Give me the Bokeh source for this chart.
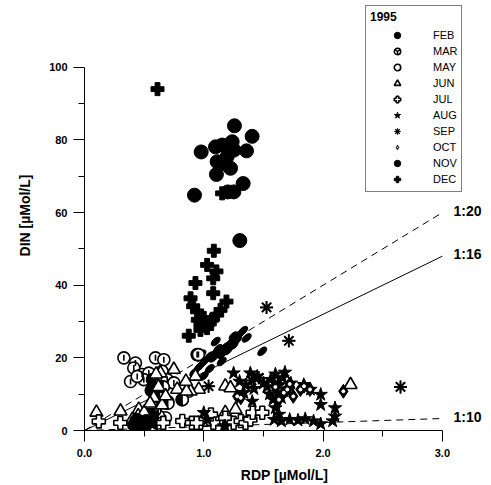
import math
from bokeh.plotting import figure
from bokeh.models import Range1d, FixedTicker, NumeralTickFormatter, Label, Legend, LegendItem
from bokeh.embed import file_html
from bokeh.resources import INLINE

# ---------------- data ----------------
feb_rdp = [0.92, 0.96, 0.99, 1.02, 1.05, 1.08, 1.10, 1.12, 1.15, 1.18, 1.20, 1.22, 1.25, 1.28, 1.30, 1.33, 1.36, 1.49, 1.00, 1.05, 1.15, 0.98, 1.10, 1.25]
feb_din = [16.0, 17.5, 18.5, 19.5, 20.5, 20.0, 21.5, 22.5, 21.0, 23.0, 22.0, 24.0, 23.5, 25.0, 26.5, 27.5, 25.5, 21.8, 15.0, 17.0, 19.0, 21.0, 24.5, 26.0]

mar_rdp = [0.33, 0.595, 0.665, 0.427, 0.413, 0.483, 0.539, 0.386, 0.497, 0.651, 0.693, 0.749, 0.944, 0.874, 0.819, 0.698, 0.679, 0.442, 0.955]
mar_din = [20.0, 20.0, 19.5, 18.6, 17.2, 15.4, 15.8, 13.5, 14.0, 16.3, 14.0, 13.1, 20.9, 10.8, 8.5, 8.0, 3.5, 14.9, 20.9]

may_rdp = [0.82, 0.60, 0.66, 0.58, 0.62, 0.70, 0.55, 0.57, 0.60, 0.63, 0.59, 0.61, 0.56]
may_din = [8.5, 10.0, 12.0, 6.5, 4.0, 7.5, 2.5, 14.0, 12.5, 9.0, 5.5, 2.0, 11.0]

jun_rdp = [0.749, 0.93, 0.958, 0.889, 0.302, 0.455, 0.553, 1.18, 1.18, 1.266, 0.777, 0.637, 1.224, 2.23, 0.855, 0.10, 0.45, 0.40, 0.50, 0.62, 0.58, 0.65, 0.55, 0.42, 0.68, 0.85, 0.60]
jun_din = [16.8, 14.9, 11.3, 10.8, 5.3, 5.8, 7.1, 12.2, 4.9, 5.8, 11.3, 15.8, 11.7, 12.6, 10.8, 5.0, 4.0, 3.0, 5.0, 12.0, 9.0, 7.0, 7.5, 2.0, 9.5, 13.5, 15.5]

jul_rdp = [0.30, 0.66, 0.82, 0.90, 0.97, 1.01, 1.08, 1.18, 1.25, 1.31, 1.35, 1.39, 1.41, 1.49, 0.12, 0.94, 1.06]
jul_din = [2.1, 2.1, 2.6, 2.1, 2.1, 3.0, 2.1, 3.5, 2.1, 2.6, 2.1, 3.0, 4.9, 4.9, 2.5, 2.1, 4.4]

aug_rdp = [1.17, 1.00, 1.03, 1.25, 1.39, 1.448, 1.336, 1.406, 1.60, 1.838, 1.894, 1.98, 1.98, 2.10, 2.10, 2.08,
           1.53, 1.56, 1.60, 1.63, 1.66, 1.70, 1.73, 1.55, 1.58, 1.62, 1.65, 1.68, 1.59, 1.65, 1.72, 1.79,
           1.85, 1.92, 1.98, 1.63, 1.30, 1.35, 1.42, 1.50, 1.18]
aug_din = [1.2, 4.9, 3.0, 15.8, 15.8, 14.9, 10.4, 8.0, 6.2, 12.6, 11.3, 9.9, 7.1, 6.2, 3.9, 2.6,
           12.0, 14.0, 15.5, 12.5, 14.5, 11.0, 13.0, 10.0, 8.5, 10.5, 9.0, 16.0, 3.0, 2.6, 3.0, 2.8,
           3.2, 2.6, 1.8, 4.4, 13.5, 12.5, 11.5, 13.0, 1.2]

sep_rdp = [2.649, 1.526, 1.713, 1.04, 1.46, 1.62, 1.40]
sep_din = [12.0, 33.9, 24.7, 12.2, 14.5, 13.0, 13.8]

oct_rdp = [2.17, 1.81, 1.89, 1.70, 1.31, 1.63, 1.75, 1.67, 1.84, 1.28, 1.60, 1.72]
oct_din = [10.8, 11.3, 11.3, 11.3, 9.0, 8.5, 9.4, 10.4, 12.2, 9.4, 12.0, 12.8]

nov_rdp = [1.257, 1.405, 0.978, 1.098, 1.154, 1.238, 1.252, 1.358, 1.196, 1.112, 1.224, 1.106, 1.168, 1.330, 1.252, 1.201, 0.922, 1.302,
           0.42, 0.45, 0.48, 0.50, 0.44, 0.52, 0.46]
nov_din = [83.9, 81.0, 76.7, 78.1, 78.6, 79.5, 77.2, 77.0, 75.4, 74.0, 72.2, 70.5, 73.5, 68.0, 65.7, 65.7, 64.8, 52.3,
           1.5, 0.8, 2.0, 1.0, 2.8, 2.5, 1.8]

dec_rdp = [0.612, 1.154, 1.084, 1.028, 1.106, 1.079, 0.930, 1.079, 1.190, 0.889, 0.911, 0.944, 1.140, 1.112, 1.0, 1.07, 0.972, 1.028, 0.874, 0.972, 1.05, 0.95]
dec_din = [94.0, 65.3, 49.5, 45.6, 43.8, 41.9, 40.6, 37.8, 35.5, 36.4, 34.2, 32.8, 33.2, 31.9, 31.0, 30.5, 29.1, 28.2, 26.1, 27.7, 29.5, 30.5]

ratio_labels = ["1:20", "1:16", "1:10"]
ratio_slopes = [20.0, 16.0, 1.1]
ratio_dash = ["7 5", "solid", "7 5"]
ratio_x_end = 3.0

x_ticks = [0, 1, 2, 3]
x_minor = [0.5, 1.5, 2.5]
y_ticks = [0, 20, 40, 60, 80, 100]
y_minor = [10, 30, 50, 70, 90]

legend_title = "1995"

FONT = "Liberation Sans"

p = figure(width=491, height=485, output_backend="svg", toolbar_location=None,
           x_range=Range1d(0, 3.353), y_range=Range1d(0, 118.4),
           min_border_left=84, min_border_right=7, min_border_top=0, min_border_bottom=54)
p.outline_line_color = None
p.xgrid.visible = False
p.ygrid.visible = False

for ax, ticks, minor, bnds, lab in [(p.xaxis[0], x_ticks, x_minor, (0, 3), "RDP [µMol/L]"),
                                     (p.yaxis[0], y_ticks, y_minor, (0, 100), "DIN [µMol/L]")]:
    ax.ticker = FixedTicker(ticks=ticks, minor_ticks=minor)
    ax.bounds = bnds
    ax.axis_label = lab
    ax.axis_label_text_font = FONT
    ax.axis_label_text_font_style = "bold"
    ax.axis_label_text_font_size = "14px"
    ax.axis_label_text_color = "black"
    ax.major_label_text_font = FONT
    ax.major_label_text_font_style = "bold"
    ax.major_label_text_font_size = "11px"
    ax.major_label_text_color = "black"
    ax.major_tick_in = 0
    ax.major_tick_out = 11
    ax.minor_tick_in = 0
    ax.minor_tick_out = 6
    ax.axis_line_color = "black"
    ax.major_tick_line_color = "black"
    ax.minor_tick_line_color = "black"

p.xaxis[0].formatter = NumeralTickFormatter(format="0.0")
p.xaxis[0].major_label_standoff = 7
p.xaxis[0].axis_label_standoff = 7
p.yaxis[0].major_label_standoff = 6
p.yaxis[0].axis_label_standoff = 13

# ratio lines
for lab, s, d in zip(ratio_labels, ratio_slopes, ratio_dash):
    p.line([0, ratio_x_end], [0, s * ratio_x_end], line_color="black", line_width=1, line_dash=d)
    p.add_layout(Label(x=3.093, y=s * ratio_x_end + 0.5, text=lab, text_font=FONT, text_font_style="bold",
                       text_color="black", text_font_size="14px", text_baseline="middle", text_align="left"))

LW = 1.6
# FEB: leaf-shaped marks (small circle underneath serves as legend glyph)
lg_feb = p.scatter(feb_rdp, feb_din, marker="circle", size=5, fill_color="black", line_color="black")
p.ellipse(feb_rdp, feb_din, width=11, height=6, angle=0.75, width_units="screen", height_units="screen",
          fill_color="black", line_color="black")
# MAR
lg_mar = p.scatter(mar_rdp, mar_din, marker="circle_y", size=10, fill_color="white", line_color="black", line_width=1.5)
p.scatter(mar_rdp, mar_din, marker="circle", size=12, fill_color="white", line_color="black", line_width=LW)
p.scatter(mar_rdp, mar_din, marker="dash", angle=math.pi / 2, size=6, line_color="black", line_width=LW)
# MAY
r_may = p.scatter(may_rdp, may_din, marker="circle", size=12, fill_color="white", line_color="black", line_width=LW)
p.wedge(may_rdp, may_din, radius=6, radius_units="screen", start_angle=math.pi / 2, end_angle=3 * math.pi / 2,
        fill_color="black", line_color="black")
r_jun = p.scatter(jun_rdp, jun_din, marker="triangle", size=13, fill_color="white", line_color="black", line_width=LW)
r_jul = p.scatter(jul_rdp, jul_din, marker="plus", size=13, fill_color="white", line_color="black", line_width=LW)
r_aug = p.scatter(aug_rdp, aug_din, marker="star", size=14, fill_color="black", line_color="black")
# SEP
lg_sep = p.scatter(sep_rdp, sep_din, marker="asterisk", size=13, line_color="black", line_width=1.2)
p.scatter(sep_rdp, sep_din, marker="asterisk", size=13, line_color="black", line_width=2)
# OCT
lg_oct = p.scatter(oct_rdp, oct_din, marker="diamond_dot", size=12, fill_color="black", line_color="white", line_width=0.6)
p.scatter(oct_rdp, oct_din, marker="diamond", size=14, fill_color="black", line_color="black")
p.scatter(oct_rdp, oct_din, marker="circle", size=3, fill_color="white", line_color="white")
r_nov = p.scatter(nov_rdp, nov_din, marker="circle", size=14, fill_color="black", line_color="black")
r_dec = p.scatter(dec_rdp, dec_din, marker="plus", size=13, fill_color="black", line_color="black")

items = [("FEB", [lg_feb]), ("MAR", [lg_mar]), ("MAY", [r_may]), ("JUN", [r_jun]), ("JUL", [r_jul]),
         ("AUG", [r_aug]), ("SEP", [lg_sep]), ("OCT", [lg_oct]), ("NOV", [r_nov]), ("DEC", [r_dec])]
legend = Legend(items=[LegendItem(label=l, renderers=r) for l, r in items],
                location=(281, 238), title=legend_title,
                title_text_font=FONT, title_text_font_style="bold", title_text_font_size="12px",
                title_text_color="black", title_standoff=3,
                label_text_font=FONT, label_text_font_size="11px", label_text_color="black",
                glyph_width=54, glyph_height=16, label_height=16, label_width=20,
                spacing=0, padding=4, margin=0, label_standoff=9,
                border_line_color="black", border_line_width=1, background_fill_color="white",
                background_fill_alpha=1.0)
p.add_layout(legend, "center")

open("out.html", "w").write(file_html(p, INLINE))
